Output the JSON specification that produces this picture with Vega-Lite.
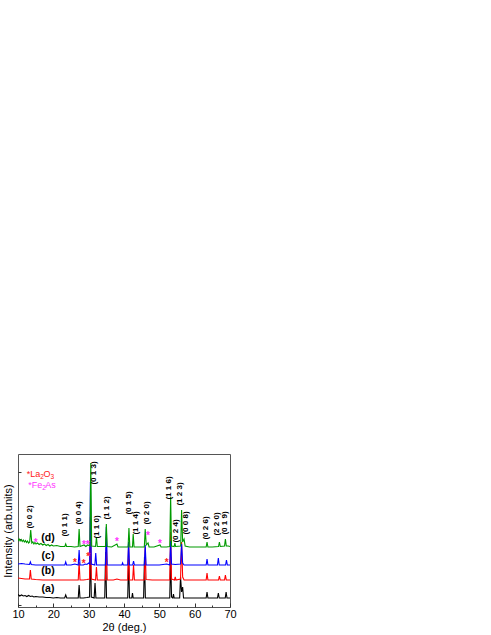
{
  "$schema": "https://vega.github.io/schema/vega-lite/v6.json",
  "width": 212,
  "height": 153,
  "autosize": {"type": "none"},
  "padding": {"left": 18, "top": 454, "right": 261, "bottom": 28},
  "background": "white",
  "config": {"font": "Liberation Sans", "view": {"stroke": "#555555", "strokeWidth": 1}},
  "resolve": {"axis": {"x": "independent"}},
  "datasets": {
    "traces": [
      {"s":"a","t":10,"i":12.5},{"s":"a","t":10.5,"i":11},{"s":"a","t":11,"i":12},{"s":"a","t":11.5,"i":11},{"s":"a","t":12,"i":11.5},{"s":"a","t":12.5,"i":10.5},{"s":"a","t":13,"i":11.5},{"s":"a","t":13.5,"i":10.5},{"s":"a","t":14,"i":11},{"s":"a","t":14.5,"i":10},{"s":"a","t":15,"i":10.5},{"s":"a","t":16,"i":10},{"s":"a","t":17,"i":10},{"s":"a","t":18,"i":9.5},{"s":"a","t":19,"i":9.5},{"s":"a","t":20,"i":9},{"s":"a","t":21,"i":9.5},{"s":"a","t":22,"i":9},{"s":"a","t":23.2,"i":9},{"s":"a","t":23.5,"i":12},{"s":"a","t":23.8,"i":9},{"s":"a","t":25,"i":9},{"s":"a","t":26,"i":9},{"s":"a","t":27.05,"i":9},{"s":"a","t":27.3,"i":22},{"s":"a","t":27.55,"i":9},{"s":"a","t":28.5,"i":9},{"s":"a","t":29.5,"i":9.5},{"s":"a","t":30.25,"i":10},{"s":"a","t":30.5,"i":60},{"s":"a","t":30.75,"i":10},{"s":"a","t":31.55,"i":9},{"s":"a","t":31.8,"i":24},{"s":"a","t":32.05,"i":9},{"s":"a","t":33,"i":9},{"s":"a","t":34.55,"i":9},{"s":"a","t":34.8,"i":55},{"s":"a","t":35.05,"i":9},{"s":"a","t":36,"i":9},{"s":"a","t":38,"i":9},{"s":"a","t":40,"i":9},{"s":"a","t":41.05,"i":9},{"s":"a","t":41.3,"i":48},{"s":"a","t":41.55,"i":9},{"s":"a","t":42.2,"i":9},{"s":"a","t":42.4,"i":14},{"s":"a","t":42.6,"i":9},{"s":"a","t":44,"i":9},{"s":"a","t":45.55,"i":9},{"s":"a","t":45.8,"i":50},{"s":"a","t":46.05,"i":9},{"s":"a","t":48,"i":9},{"s":"a","t":50,"i":9},{"s":"a","t":52,"i":9},{"s":"a","t":52.95,"i":9},{"s":"a","t":53.2,"i":50},{"s":"a","t":53.45,"i":10},{"s":"a","t":53.8,"i":9},{"s":"a","t":54,"i":13},{"s":"a","t":54.2,"i":9},{"s":"a","t":55.75,"i":9},{"s":"a","t":56,"i":30},{"s":"a","t":56.3,"i":15},{"s":"a","t":56.6,"i":20},{"s":"a","t":56.85,"i":9},{"s":"a","t":58,"i":9},{"s":"a","t":60,"i":9},{"s":"a","t":62,"i":9},{"s":"a","t":63.25,"i":9},{"s":"a","t":63.5,"i":15},{"s":"a","t":63.75,"i":9},{"s":"a","t":65,"i":9},{"s":"a","t":66.45,"i":9},{"s":"a","t":66.7,"i":14},{"s":"a","t":66.95,"i":9},{"s":"a","t":68,"i":9},{"s":"a","t":68.65,"i":9},{"s":"a","t":68.9,"i":15},{"s":"a","t":69.15,"i":9},{"s":"a","t":70,"i":9},

      {"s":"b","t":10,"i":29},{"s":"b","t":11,"i":28.5},{"s":"b","t":12,"i":28},{"s":"b","t":13.25,"i":28},{"s":"b","t":13.5,"i":37},{"s":"b","t":13.75,"i":28},{"s":"b","t":15,"i":27.5},{"s":"b","t":17,"i":27},{"s":"b","t":19,"i":27},{"s":"b","t":21,"i":27},{"s":"b","t":23,"i":27},{"s":"b","t":25,"i":27},{"s":"b","t":27.05,"i":27},{"s":"b","t":27.3,"i":45},{"s":"b","t":27.55,"i":27},{"s":"b","t":28.5,"i":27},{"s":"b","t":29.5,"i":27.5},{"s":"b","t":30.25,"i":28},{"s":"b","t":30.5,"i":90},{"s":"b","t":30.75,"i":28},{"s":"b","t":31.95,"i":27},{"s":"b","t":32.2,"i":40},{"s":"b","t":32.45,"i":27},{"s":"b","t":34.75,"i":27},{"s":"b","t":35,"i":70},{"s":"b","t":35.25,"i":27},{"s":"b","t":37,"i":27},{"s":"b","t":38,"i":28},{"s":"b","t":39,"i":27},{"s":"b","t":41.05,"i":27},{"s":"b","t":41.3,"i":65},{"s":"b","t":41.55,"i":27},{"s":"b","t":42.45,"i":27},{"s":"b","t":42.7,"i":42},{"s":"b","t":42.95,"i":27},{"s":"b","t":44,"i":27},{"s":"b","t":45.75,"i":27},{"s":"b","t":46,"i":60},{"s":"b","t":46.25,"i":27.5},{"s":"b","t":48,"i":27},{"s":"b","t":50,"i":27},{"s":"b","t":52,"i":27},{"s":"b","t":52.95,"i":27},{"s":"b","t":53.2,"i":75},{"s":"b","t":53.45,"i":28},{"s":"b","t":54.3,"i":27},{"s":"b","t":54.5,"i":30},{"s":"b","t":54.7,"i":27},{"s":"b","t":56,"i":28},{"s":"b","t":56.3,"i":65},{"s":"b","t":56.6,"i":30},{"s":"b","t":57,"i":27},{"s":"b","t":59,"i":27},{"s":"b","t":61,"i":27},{"s":"b","t":63.25,"i":27},{"s":"b","t":63.5,"i":34},{"s":"b","t":63.75,"i":27},{"s":"b","t":65,"i":27},{"s":"b","t":66.75,"i":27},{"s":"b","t":67,"i":31},{"s":"b","t":67.25,"i":27},{"s":"b","t":68.45,"i":27},{"s":"b","t":68.7,"i":32},{"s":"b","t":68.95,"i":27},{"s":"b","t":70,"i":27},

      {"s":"c","t":10,"i":43},{"s":"c","t":11,"i":43.5},{"s":"c","t":12,"i":43},{"s":"c","t":13.25,"i":42.5},{"s":"c","t":13.5,"i":45},{"s":"c","t":13.75,"i":42.5},{"s":"c","t":15,"i":42},{"s":"c","t":17,"i":42},{"s":"c","t":19,"i":42},{"s":"c","t":21,"i":42},{"s":"c","t":23.25,"i":42},{"s":"c","t":23.5,"i":45},{"s":"c","t":23.75,"i":42},{"s":"c","t":25,"i":42},{"s":"c","t":26.1,"i":43},{"s":"c","t":27.05,"i":42},{"s":"c","t":27.3,"i":57},{"s":"c","t":27.55,"i":42},{"s":"c","t":28.5,"i":42},{"s":"c","t":29,"i":43},{"s":"c","t":29.5,"i":42.5},{"s":"c","t":30,"i":44},{"s":"c","t":30.3,"i":43},{"s":"c","t":30.5,"i":125},{"s":"c","t":30.75,"i":43},{"s":"c","t":31.75,"i":42},{"s":"c","t":32,"i":54},{"s":"c","t":32.25,"i":42},{"s":"c","t":34.75,"i":42},{"s":"c","t":35,"i":80},{"s":"c","t":35.25,"i":42},{"s":"c","t":37,"i":42},{"s":"c","t":39.4,"i":42},{"s":"c","t":39.6,"i":44},{"s":"c","t":39.8,"i":42},{"s":"c","t":41.05,"i":42},{"s":"c","t":41.3,"i":65},{"s":"c","t":41.55,"i":42},{"s":"c","t":42.45,"i":42},{"s":"c","t":42.7,"i":46},{"s":"c","t":42.95,"i":42},{"s":"c","t":44,"i":42},{"s":"c","t":45.75,"i":42},{"s":"c","t":46,"i":62},{"s":"c","t":46.25,"i":42},{"s":"c","t":48,"i":42},{"s":"c","t":50,"i":42},{"s":"c","t":52.1,"i":43},{"s":"c","t":52.95,"i":42},{"s":"c","t":53.2,"i":66},{"s":"c","t":53.45,"i":43},{"s":"c","t":54.5,"i":42.5},{"s":"c","t":56,"i":43},{"s":"c","t":56.3,"i":63},{"s":"c","t":56.6,"i":44},{"s":"c","t":57,"i":42},{"s":"c","t":59,"i":42},{"s":"c","t":61,"i":42},{"s":"c","t":63.25,"i":42},{"s":"c","t":63.5,"i":48},{"s":"c","t":63.75,"i":42},{"s":"c","t":65,"i":42},{"s":"c","t":66.45,"i":42},{"s":"c","t":66.7,"i":49},{"s":"c","t":66.95,"i":42},{"s":"c","t":68.75,"i":42},{"s":"c","t":69,"i":47},{"s":"c","t":69.25,"i":42},{"s":"c","t":70,"i":42},

      {"s":"d","t":10,"i":66},{"s":"d","t":10.3,"i":68},{"s":"d","t":10.6,"i":66},{"s":"d","t":10.9,"i":67.5},{"s":"d","t":11.2,"i":65.5},{"s":"d","t":11.5,"i":67},{"s":"d","t":11.8,"i":65},{"s":"d","t":12.1,"i":66.5},{"s":"d","t":12.4,"i":64.5},{"s":"d","t":12.7,"i":66},{"s":"d","t":13,"i":64},{"s":"d","t":13.3,"i":65},{"s":"d","t":13.6,"i":77},{"s":"d","t":13.9,"i":64},{"s":"d","t":14.2,"i":65},{"s":"d","t":14.5,"i":63},{"s":"d","t":14.8,"i":64.5},{"s":"d","t":15.1,"i":63},{"s":"d","t":15.5,"i":64},{"s":"d","t":16,"i":62.5},{"s":"d","t":16.5,"i":63.5},{"s":"d","t":17,"i":62},{"s":"d","t":17.5,"i":63},{"s":"d","t":18,"i":61.5},{"s":"d","t":18.5,"i":62.5},{"s":"d","t":19,"i":61},{"s":"d","t":19.5,"i":62},{"s":"d","t":20,"i":61},{"s":"d","t":21,"i":61.5},{"s":"d","t":22,"i":60.5},{"s":"d","t":23.25,"i":60.5},{"s":"d","t":23.5,"i":63},{"s":"d","t":23.75,"i":60.5},{"s":"d","t":25,"i":60.5},{"s":"d","t":26,"i":60},{"s":"d","t":27.05,"i":60.5},{"s":"d","t":27.3,"i":78},{"s":"d","t":27.55,"i":60.5},{"s":"d","t":28.7,"i":62},{"s":"d","t":29.2,"i":60.5},{"s":"d","t":29.7,"i":62},{"s":"d","t":30.35,"i":61},{"s":"d","t":30.6,"i":144},{"s":"d","t":30.85,"i":61},{"s":"d","t":31.95,"i":60.5},{"s":"d","t":32.2,"i":70},{"s":"d","t":32.45,"i":60.5},{"s":"d","t":34.75,"i":60.5},{"s":"d","t":35,"i":83},{"s":"d","t":35.25,"i":60.5},{"s":"d","t":36.5,"i":60},{"s":"d","t":38,"i":63},{"s":"d","t":38.3,"i":60},{"s":"d","t":40,"i":60},{"s":"d","t":41.15,"i":60},{"s":"d","t":41.4,"i":79},{"s":"d","t":41.65,"i":60},{"s":"d","t":42.4,"i":60},{"s":"d","t":42.6,"i":73},{"s":"d","t":42.85,"i":60},{"s":"d","t":44,"i":60},{"s":"d","t":45.75,"i":60},{"s":"d","t":46,"i":78},{"s":"d","t":46.3,"i":62},{"s":"d","t":46.8,"i":64},{"s":"d","t":47.1,"i":60},{"s":"d","t":48.5,"i":60},{"s":"d","t":50.2,"i":62},{"s":"d","t":50.5,"i":60},{"s":"d","t":52,"i":60},{"s":"d","t":52.95,"i":60.5},{"s":"d","t":53.2,"i":110},{"s":"d","t":53.45,"i":61},{"s":"d","t":54.2,"i":60.5},{"s":"d","t":54.4,"i":64},{"s":"d","t":54.6,"i":60.5},{"s":"d","t":56.05,"i":61},{"s":"d","t":56.3,"i":97},{"s":"d","t":56.6,"i":65},{"s":"d","t":57,"i":68},{"s":"d","t":57.3,"i":61},{"s":"d","t":58.5,"i":60},{"s":"d","t":60,"i":60},{"s":"d","t":62,"i":60},{"s":"d","t":63.25,"i":60},{"s":"d","t":63.5,"i":65},{"s":"d","t":63.75,"i":60},{"s":"d","t":65,"i":60},{"s":"d","t":66.75,"i":60.5},{"s":"d","t":67,"i":65},{"s":"d","t":67.25,"i":60.5},{"s":"d","t":68.45,"i":61},{"s":"d","t":68.7,"i":68},{"s":"d","t":68.95,"i":61},{"s":"d","t":69.5,"i":61},{"s":"d","t":70,"i":60.5}
    ],
    "hkl": [
      {"lab":"(0 0 2)","t":13.4,"y":90},{"lab":"(0 1 1)","t":23.3,"y":82},{"lab":"(0 0 4)","t":27.35,"y":94},{"lab":"(0 1 3)","t":31.6,"y":134},{"lab":"(1 1 0)","t":32.3,"y":80},{"lab":"(1 1 2)","t":35.1,"y":99},{"lab":"(0 1 5)","t":41.5,"y":104},{"lab":"(1 1 4)","t":43.3,"y":84},{"lab":"(0 2 0)","t":46.6,"y":94},{"lab":"(1 1 6)","t":52.8,"y":119},{"lab":"(0 2 4)","t":54.7,"y":76},{"lab":"(1 2 3)","t":55.8,"y":113},{"lab":"(0 0 8)","t":57.5,"y":84},{"lab":"(0 2 6)","t":63.2,"y":79},{"lab":"(2 2 0)","t":66.4,"y":83},{"lab":"(0 1 9)","t":68.6,"y":84}
    ],
    "series": [
      {"lab":"(a)","t":18.5,"y":18},{"lab":"(b)","t":18.5,"y":36},{"lab":"(c)","t":18.5,"y":51},{"lab":"(d)","t":18.5,"y":69}
    ],
    "stars": [
      {"ph":"La2O3","t":26.1,"y":47},{"ph":"La2O3","t":28.6,"y":46},{"ph":"La2O3","t":29.9,"y":53},{"ph":"La2O3","t":52.1,"y":47},
      {"ph":"Fe2As","t":15.0,"y":67},{"ph":"Fe2As","t":28.7,"y":65},{"ph":"Fe2As","t":29.7,"y":65},{"ph":"Fe2As","t":38.0,"y":68},{"ph":"Fe2As","t":46.8,"y":74},{"ph":"Fe2As","t":50.2,"y":66}
    ],
    "legend": [
      {"ph":"La2O3","sub":0,"txt":"*La","t":12.46,"y":133},{"ph":"La2O3","sub":1,"txt":"2","t":16.28,"y":130},{"ph":"La2O3","sub":0,"txt":"O","t":17.22,"y":133},{"ph":"La2O3","sub":1,"txt":"3","t":19.2,"y":130},
      {"ph":"Fe2As","sub":0,"txt":"*Fe","t":12.92,"y":122},{"ph":"Fe2As","sub":1,"txt":"2","t":16.88,"y":119},{"ph":"Fe2As","sub":0,"txt":"As","t":17.73,"y":122}
    ]
  },
  "layer": [
    {
      "data": {"name": "traces"},
      "mark": {"type": "line", "strokeWidth": 1.1, "clip": true},
      "encoding": {
        "x": {"field": "t", "type": "quantitative", "scale": {"domain": [10, 70], "nice": false, "zero": false},
          "axis": {"title": "2θ (deg.)", "values": [10,20,30,40,50,60,70], "orient": "bottom",
            "labelOverlap": false, "labelBound": false, "labelFlush": false,
            "tickSize": -4, "tickColor": "#333", "domain": false, "grid": false, "labelFontSize": 11, "labelColor": "black", "labelPadding": 5,
            "titleFontSize": 11, "titleFontWeight": "normal", "titleColor": "black", "titlePadding": 2}},
        "y": {"field": "i", "type": "quantitative", "scale": {"domain": [0, 153], "nice": false},
          "axis": {"title": "Intensity (arb.units)", "values": [1.7,10,18.3,26.7,35,43.3,51.7,60,68.3,76.7,85,93.3,101.7,110,118.3,126.7,135,143.3],
            "labels": false, "tickSize": -3, "tickColor": "#333", "domain": false, "grid": false,
            "titleFontSize": 11, "titleFontWeight": "normal", "titleColor": "black", "titlePadding": 4}},
        "color": {"field": "s", "type": "nominal", "scale": {"domain": ["a","b","c","d"], "range": ["#000000","#ff0000","#0000ff","#009a00"]}, "legend": null}
      }
    },
    {
      "data": {"name": "hkl"},
      "mark": {"type": "text", "angle": 270, "fontSize": 8, "fontWeight": "bold", "color": "black", "align": "center", "baseline": "middle"},
      "encoding": {
        "x": {"field": "t", "type": "quantitative",
          "axis": {"orient": "bottom", "values": [15,25,35,45,55,65], "labels": false, "title": null, "tickSize": -2, "tickColor": "#333", "domain": false, "grid": false}},
        "y": {"field": "y", "type": "quantitative"}, "text": {"field": "lab"}}
    },
    {
      "data": {"name": "series"},
      "mark": {"type": "text", "fontSize": 10.5, "fontWeight": "bold", "color": "black", "align": "center", "baseline": "middle"},
      "encoding": {"x": {"field": "t", "type": "quantitative", "axis": null}, "y": {"field": "y", "type": "quantitative"}, "text": {"field": "lab"}}
    },
    {
      "data": {"name": "stars"},
      "transform": [{"filter": "datum.ph == 'La2O3'"}],
      "mark": {"type": "text", "fontSize": 10, "fontWeight": "bold", "color": "#ff2020", "align": "center", "baseline": "middle", "dy": 3},
      "encoding": {"x": {"field": "t", "type": "quantitative", "axis": null}, "y": {"field": "y", "type": "quantitative"}, "text": {"value": "*"}}
    },
    {
      "data": {"name": "stars"},
      "transform": [{"filter": "datum.ph == 'Fe2As'"}],
      "mark": {"type": "text", "fontSize": 10, "fontWeight": "bold", "color": "#ff33ff", "align": "center", "baseline": "middle", "dy": 3},
      "encoding": {"x": {"field": "t", "type": "quantitative", "axis": null}, "y": {"field": "y", "type": "quantitative"}, "text": {"value": "*"}}
    },
    {
      "data": {"name": "legend"},
      "transform": [{"filter": "datum.ph == 'La2O3' && datum.sub == 0"}],
      "mark": {"type": "text", "fontSize": 9, "color": "#ff2020", "align": "left", "baseline": "middle"},
      "encoding": {"x": {"field": "t", "type": "quantitative", "axis": null}, "y": {"field": "y", "type": "quantitative"}, "text": {"field": "txt"}}
    },
    {
      "data": {"name": "legend"},
      "transform": [{"filter": "datum.ph == 'La2O3' && datum.sub == 1"}],
      "mark": {"type": "text", "fontSize": 6.5, "color": "#ff2020", "align": "left", "baseline": "middle"},
      "encoding": {"x": {"field": "t", "type": "quantitative", "axis": null}, "y": {"field": "y", "type": "quantitative"}, "text": {"field": "txt"}}
    },
    {
      "data": {"name": "legend"},
      "transform": [{"filter": "datum.ph == 'Fe2As' && datum.sub == 0"}],
      "mark": {"type": "text", "fontSize": 9, "color": "#ff33ff", "align": "left", "baseline": "middle"},
      "encoding": {"x": {"field": "t", "type": "quantitative", "axis": null}, "y": {"field": "y", "type": "quantitative"}, "text": {"field": "txt"}}
    },
    {
      "data": {"name": "legend"},
      "transform": [{"filter": "datum.ph == 'Fe2As' && datum.sub == 1"}],
      "mark": {"type": "text", "fontSize": 6.5, "color": "#ff33ff", "align": "left", "baseline": "middle"},
      "encoding": {"x": {"field": "t", "type": "quantitative", "axis": null}, "y": {"field": "y", "type": "quantitative"}, "text": {"field": "txt"}}
    }
  ]
}
